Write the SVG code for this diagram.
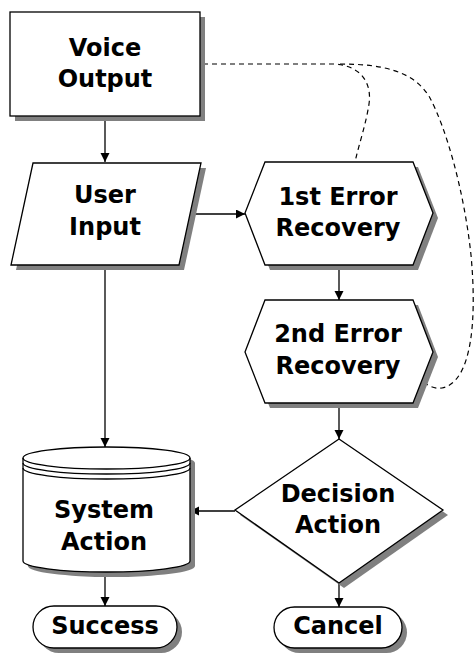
<svg xmlns="http://www.w3.org/2000/svg" width="475" height="654" viewBox="0 0 475 654">
<defs>
<style>
.shape{fill:#fff;stroke:#000;stroke-width:1.3}
.shadow{fill:#808080;stroke:none}
.lbl{font-family:"DejaVu Sans","Liberation Sans",sans-serif;font-weight:bold;font-size:24px;text-anchor:middle;fill:#000}
.conn{fill:none;stroke:#000;stroke-width:1.3}
.dash{fill:none;stroke:#000;stroke-width:1.2;stroke-dasharray:5 4}
</style>
<marker id="arr" markerUnits="userSpaceOnUse" markerWidth="10" markerHeight="10" refX="9" refY="4.5" orient="auto">
<path d="M0,0 L9,4.5 L0,9 Z" fill="#000"/>
</marker>
</defs>
<rect width="475" height="654" fill="#fff"/>

<g id="connectors">
<line class="conn" x1="105" y1="116" x2="105" y2="162" marker-end="url(#arr)"/>
<line class="conn" x1="190" y1="214" x2="245" y2="214" marker-end="url(#arr)"/>
<line class="conn" x1="339" y1="265" x2="339" y2="300" marker-end="url(#arr)"/>
<line class="conn" x1="339" y1="403" x2="339" y2="439" marker-end="url(#arr)"/>
<line class="conn" x1="105" y1="265" x2="105" y2="447" marker-end="url(#arr)"/>
<line class="conn" x1="235" y1="511" x2="190" y2="511" marker-end="url(#arr)"/>
<line class="conn" x1="105" y1="572" x2="105" y2="606" marker-end="url(#arr)"/>
<line class="conn" x1="339" y1="583" x2="339" y2="607" marker-end="url(#arr)"/>
<path class="dash" d="M203,64 L335,64 C362,66 372,84 369,104 C366,124 359,144 355,162"/>
<path class="dash" d="M340,64 C380,64 414,70 430,98 C446,128 464,190 471,255 C477,320 472,382 442,388 C434,389 429,386 425,383"/>
</g>

<g id="voice-output">
<rect class="shadow" x="15" y="17" width="190" height="104"/>
<rect class="shape" x="10" y="12" width="190" height="104"/>
<text class="lbl" x="105" y="56">Voice</text>
<text class="lbl" x="105" y="87">Output</text>
</g>

<g id="user-input">
<polygon class="shadow" points="38,168 206,168 184,270 16,270"/>
<polygon class="shape" points="33,163 201,163 179,265 11,265"/>
<text class="lbl" x="105" y="203">User</text>
<text class="lbl" x="105" y="235">Input</text>
</g>

<g id="error1">
<polygon class="shadow" points="270,167 418,167 438,218 418,270 270,270 250,218"/>
<polygon class="shape" points="265,162 413,162 433,213 413,265 265,265 245,213"/>
<text class="lbl" x="338" y="205">1st Error</text>
<text class="lbl" x="338" y="236">Recovery</text>
</g>

<g id="error2">
<polygon class="shadow" points="270,305 418,305 438,357 418,408 270,408 250,357"/>
<polygon class="shape" points="265,300 413,300 433,352 413,403 265,403 245,352"/>
<text class="lbl" x="338" y="342">2nd Error</text>
<text class="lbl" x="338" y="374">Recovery</text>
</g>

<g id="decision">
<polygon class="shadow" points="344,444 448,515 344,588 240,515"/>
<polygon class="shape" points="339,439 443,510 339,583 235,510"/>
<text class="lbl" x="338" y="502">Decision</text>
<text class="lbl" x="338" y="533">Action</text>
</g>

<g id="system-action">
<path class="shadow" d="M28,463 A83.5,11 0 0 1 195,463 L195,566 A83.5,11 0 0 1 28,566 Z"/>
<path class="shape" d="M23,458 A83.5,11 0 0 1 190,458 L190,561 A83.5,11 0 0 1 23,561 Z"/>
<path class="conn" d="M23,458 A83.5,11 0 0 0 190,458"/>
<path class="conn" d="M23,463 A83.5,11 0 0 0 190,463"/>
<path class="conn" d="M23,468 A83.5,11 0 0 0 190,468"/>
<text class="lbl" x="104" y="518">System</text>
<text class="lbl" x="104" y="550">Action</text>
</g>

<g id="success">
<rect class="shadow" x="38" y="611" width="144" height="42" rx="21"/>
<rect class="shape" x="33" y="606" width="144" height="42" rx="21"/>
<text class="lbl" x="105" y="634">Success</text>
</g>

<g id="cancel">
<rect class="shadow" x="279" y="612" width="128" height="41" rx="20.5"/>
<rect class="shape" x="274" y="607" width="128" height="41" rx="20.5"/>
<text class="lbl" x="338" y="634">Cancel</text>
</g>
</svg>
